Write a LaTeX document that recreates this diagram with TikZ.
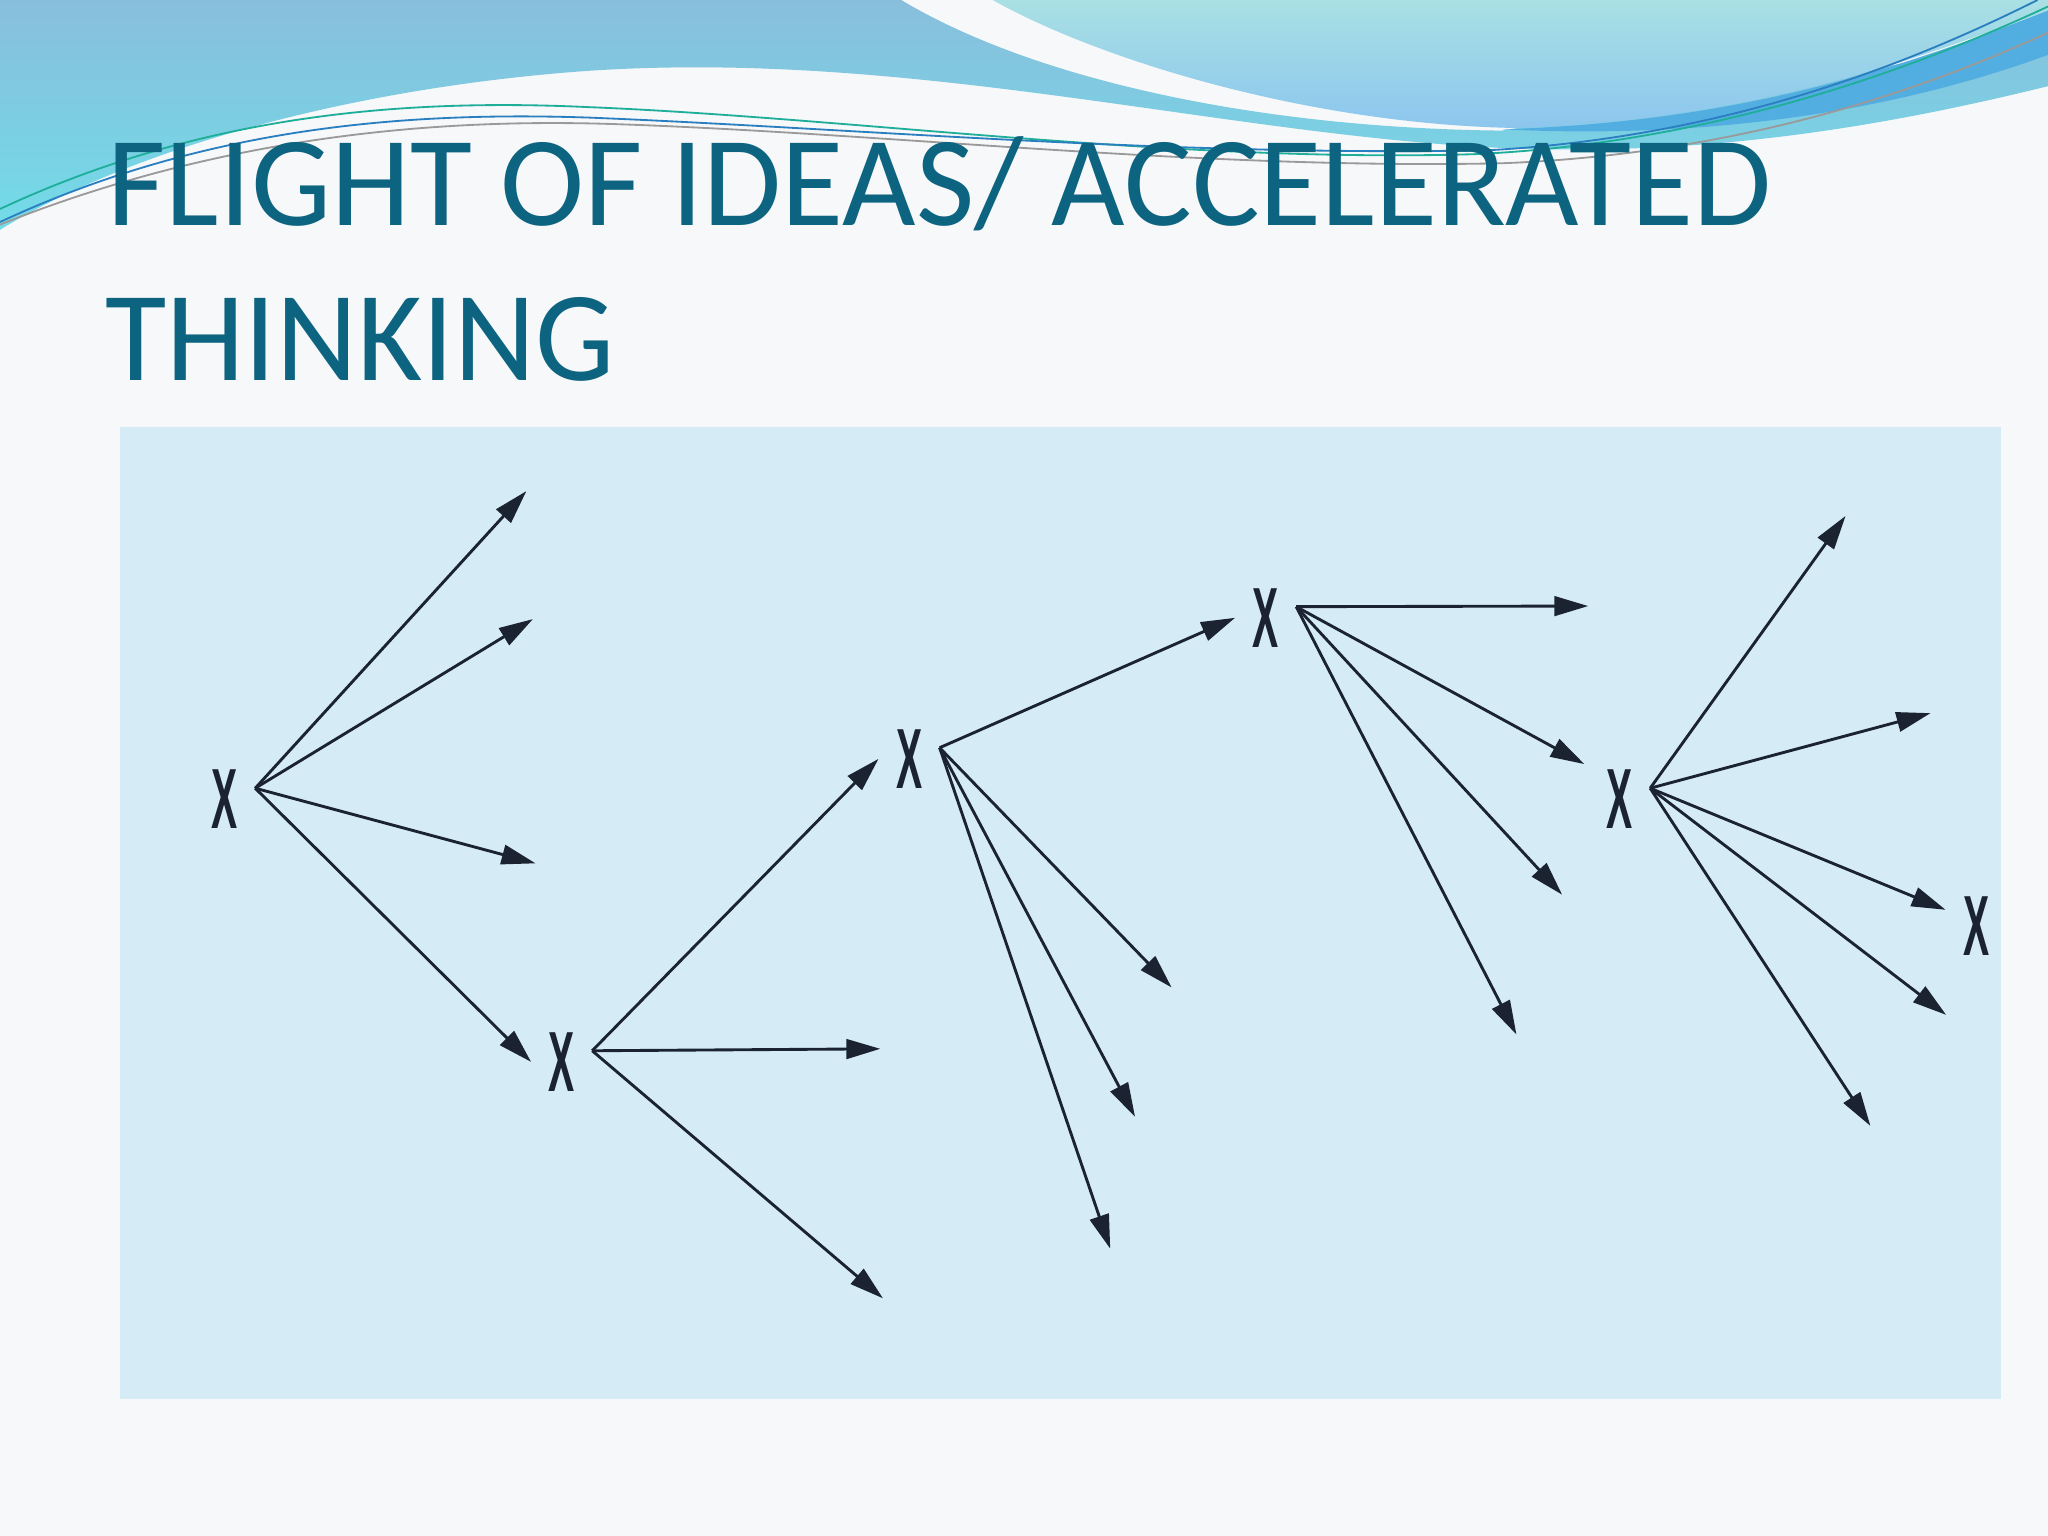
\documentclass[tikz,border=0pt]{standalone}
\usepackage{fontspec}
\setmainfont{Carlito}
\newfontfamily\markfont{Liberation Sans}
\usepackage{graphicx}
\usepackage{xcolor}
\usetikzlibrary{positioning,arrows.meta}

\definecolor{pagebg}{HTML}{F7F8F9}
\definecolor{boxblue}{HTML}{D5ECF7}
\definecolor{titleblue}{HTML}{0D6480}
\definecolor{arrowink}{HTML}{1B2230}
\definecolor{waveblue}{HTML}{88BEDC}
\definecolor{wavecyan}{HTML}{72DCE8}
\definecolor{waveaqua}{HTML}{A9E0E4}
\definecolor{wavesky}{HTML}{8CC6EE}
\definecolor{waveband}{HTML}{52AEE0}
\definecolor{lineteal}{HTML}{1FAE9A}
\definecolor{lineblue}{HTML}{2A7FC0}
\definecolor{linegray}{HTML}{9A9A9A}

\newcommand{\xglyph}{\resizebox{10pt}{22.5pt}{X}}

\begin{document}
\begin{tikzpicture}[x=0.5pt,y=-0.5pt,
    xmark/.style={inner xsep=6.5pt,inner ysep=6pt,text=arrowink,font=\markfont\bfseries},
    arr/.style={-{Triangle[length=13pt,width=7.5pt]},line width=1.1pt,draw=arrowink},
    wire/.style={line width=0.7pt},
    titletext/.style={anchor=base west,inner sep=0pt,text=titleblue}]
    \useasboundingbox (0,0) rectangle (1568,1176);
    \fill[pagebg] (0,0) rectangle (1568,1176);

    % waves at the top
    \shade[top color=waveblue,bottom color=wavecyan] (0,0) -- (690,0)
        .. controls (790,60) and (960,98) .. (1150,100) -- (1568,30) -- (1568,66)
        .. controls (1450,95) and (1320,118) .. (1170,114)
        .. controls (950,108) and (700,35) .. (440,55)
        .. controls (250,70) and (90,120) .. (0,176) -- cycle;
    \shade[top color=waveaqua,bottom color=wavesky] (760,0)
        .. controls (840,45) and (1000,95) .. (1160,98)
        .. controls (1350,92) and (1480,40) .. (1568,8) -- (1568,0) -- cycle;
    \fill[waveband] (1150,99) .. controls (1350,93) and (1480,42) .. (1568,8)
        -- (1568,42) .. controls (1470,78) and (1330,108) .. (1150,99) -- cycle;
    \draw[wire,lineteal] (0,160) .. controls (150,90) and (300,75) .. (450,82)
        .. controls (650,90) and (900,125) .. (1130,118)
        .. controls (1300,110) and (1450,60) .. (1568,5);
    \draw[wire,lineblue] (0,170) .. controls (150,100) and (300,85) .. (450,90)
        .. controls (650,98) and (900,120) .. (1140,115)
        .. controls (1320,105) and (1460,50) .. (1560,0);
    \draw[wire,linegray] (0,172) .. controls (160,108) and (320,90) .. (470,95)
        .. controls (680,102) and (920,130) .. (1150,125)
        .. controls (1330,118) and (1470,70) .. (1568,25);

    % title
    \node[titletext] (t1) at (82,173) {\resizebox{637pt}{\height}{\fontsize{49}{58}\selectfont FLIGHT OF IDEAS/ ACCELERATED}};
    \node[titletext] (t2) at (80,291) {\resizebox{195pt}{\height}{\fontsize{49}{58}\selectfont THINKING}};

    % panel
    \fill[boxblue] (92,327) rectangle (1532,1071);

    % the X marks
    \node[xmark] (a) at (172,612) {\xglyph};
    \node[xmark] (b) at (430,813) {\xglyph};
    \node[xmark] (c) at (696,581) {\xglyph};
    \node[xmark] (d) at (969,473) {\xglyph};
    \node[xmark] (e) at (1240,612) {\xglyph};
    \node[xmark] (f) at (1513,709) {\xglyph};

    % loose ends
    \coordinate (a1) at (403,376);
    \coordinate (a2) at (408,474);
    \coordinate (a3) at (410,661);
    \coordinate (b1) at (674,803);
    \coordinate (b2) at (676,994);
    \coordinate (c1) at (897,756);
    \coordinate (c2) at (869,855);
    \coordinate (c3) at (850,956);
    \coordinate (d1) at (1216,464);
    \coordinate (d2) at (1213,585);
    \coordinate (d3) at (1196,685);
    \coordinate (d4) at (1161,792);
    \coordinate (e1) at (1413,395);
    \coordinate (e2) at (1478,546);
    \coordinate (e3) at (1490,777);
    \coordinate (e4) at (1432,862);

    \foreach \t in {a1,a2,a3} \draw[arr] (a.20) -- (\t);
    \draw[arr] (a.20) -- (b.west);
    \foreach \t in {b1,b2} \draw[arr] (b.20) -- (\t);
    \draw[arr] (b.20) -- (c.west);
    \foreach \t in {c1,c2,c3} \draw[arr] (c.20) -- (\t);
    \draw[arr] (c.20) -- (d.west);
    \foreach \t in {d1,d2,d3,d4} \draw[arr] (d.20) -- (\t);
    \foreach \t in {e1,e2,e3,e4} \draw[arr] (e.20) -- (\t);
    \draw[arr] (e.20) -- (f.152);
\end{tikzpicture}
\end{document}
